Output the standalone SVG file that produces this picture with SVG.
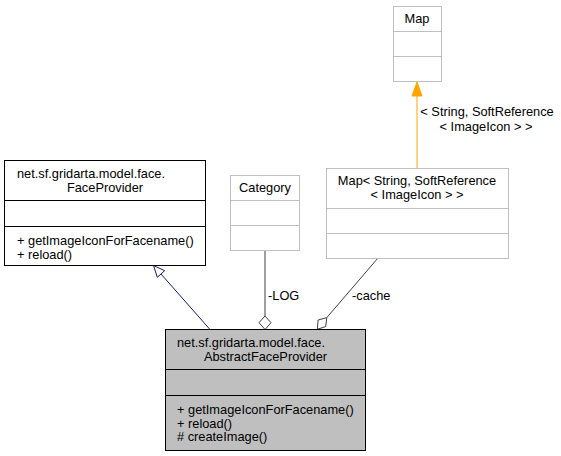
<svg xmlns="http://www.w3.org/2000/svg" width="561" height="456" viewBox="0 0 561 456">
<style>
text{font-family:"Liberation Sans",Arial,sans-serif;font-size:12.8px;fill:#000}
.c{text-anchor:middle}
.box{fill:#fff;stroke:#000;stroke-width:1}
.gbox{fill:#fff;stroke:#bfbfbf;stroke-width:1}
.cur{fill:#bfbfbf;stroke:#000;stroke-width:1}
.sep{stroke:#000;stroke-width:1}
.gsep{stroke:#bfbfbf;stroke-width:1}
.inh{stroke:#191970;fill:none;stroke-width:1}
.use{stroke:#404040;fill:none;stroke-width:1}
.tpl{stroke:#ffa500;fill:none;stroke-width:1}
</style>
<rect width="561" height="456" fill="#fff"/>
<g id="connectors">
<line class="inh" x1="210" y1="329.5" x2="161" y2="274"/>
<polygon class="inh" fill="#fff" points="153.5,265.5 164.7,270.7 157.3,277.3"/>
<line class="use" x1="265" y1="250.5" x2="265" y2="316"/>
<polygon class="use" fill="#fff" points="265,316 271,322.7 265,329.5 259,322.7"/>
<text x="268" y="300">-LOG</text>
<line class="use" x1="378" y1="258" x2="326.8" y2="317.6"/>
<polygon class="use" fill="#fff" points="326.8,317.6 325.7,326.6 317.3,329.3 318.1,320"/>
<text x="352" y="300">-cache</text>
<line class="tpl" x1="417" y1="168" x2="417" y2="95"/>
<polygon fill="#ffa500" stroke="#ffa500" points="417,82 422,96 412,96"/>
<text class="c" x="487" y="116">&lt; String, SoftReference</text>
<text class="c" x="486" y="131">&lt; ImageIcon &gt; &gt;</text>
</g>
<g id="FaceProvider">
<rect class="box" x="4.5" y="160.5" width="201" height="105"/>
<line class="sep" x1="4.5" y1="200.5" x2="205.5" y2="200.5"/>
<line class="sep" x1="4.5" y1="226.5" x2="205.5" y2="226.5"/>
<text x="17" y="178">net.sf.gridarta.model.face.</text>
<text class="c" x="105" y="191.5">FaceProvider</text>
<text x="17" y="245">+ getImageIconForFacename()</text>
<text x="17" y="258.5">+ reload()</text>
</g>
<g id="Category">
<rect class="gbox" x="230.5" y="175.5" width="69" height="75"/>
<line class="gsep" x1="230.5" y1="200.5" x2="299.5" y2="200.5"/>
<line class="gsep" x1="230.5" y1="225.5" x2="299.5" y2="225.5"/>
<text class="c" x="265" y="192">Category</text>
</g>
<g id="Map">
<rect class="gbox" x="393.5" y="6.5" width="48" height="75"/>
<line class="gsep" x1="393.5" y1="31.5" x2="441.5" y2="31.5"/>
<line class="gsep" x1="393.5" y1="56.5" x2="441.5" y2="56.5"/>
<text class="c" x="417" y="23">Map</text>
</g>
<g id="MapStringSoftReference">
<rect class="gbox" x="326.5" y="168.5" width="182" height="90"/>
<line class="gsep" x1="326.5" y1="208.5" x2="508.5" y2="208.5"/>
<line class="gsep" x1="326.5" y1="233.5" x2="508.5" y2="233.5"/>
<text class="c" x="417" y="185">Map&lt; String, SoftReference</text>
<text class="c" x="417" y="199">&lt; ImageIcon &gt; &gt;</text>
</g>
<g id="AbstractFaceProvider">
<rect class="cur" x="165.5" y="329.5" width="200" height="121"/>
<line class="sep" x1="165.5" y1="369.5" x2="365.5" y2="369.5"/>
<line class="sep" x1="165.5" y1="395.5" x2="365.5" y2="395.5"/>
<text x="177" y="347">net.sf.gridarta.model.face.</text>
<text class="c" x="265.5" y="360.5">AbstractFaceProvider</text>
<text x="177" y="414">+ getImageIconForFacename()</text>
<text x="177" y="427.5">+ reload()</text>
<text x="177" y="441"># createImage()</text>
</g>
</svg>
